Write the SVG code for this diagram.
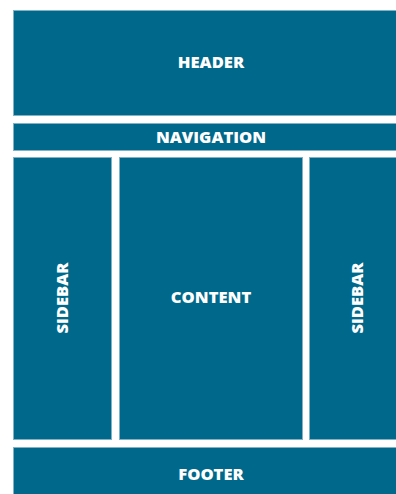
<svg xmlns="http://www.w3.org/2000/svg" width="396" height="494" viewBox="0 0 396 494">
<style>
.box{fill:#00688a;stroke:#7fb2c6;stroke-width:1}
.t{font-family:"Open Sans",sans-serif;font-weight:800;font-size:16.6px;fill:#fff;text-anchor:middle;dominant-baseline:central}
</style>
<rect width="396" height="494" fill="#fff"/>
<g id="header"><rect class="box" x="13.5" y="10.5" width="396" height="105"/><text class="t" x="211" y="61">HEADER</text></g>
<g id="navigation"><rect class="box" x="13.5" y="123.5" width="396" height="27"/><text class="t" x="211" y="136">NAVIGATION</text></g>
<g id="sidebar-left"><rect class="box" x="13.5" y="157.5" width="98" height="282"/><text class="t" transform="translate(61 298) rotate(-90)">SIDEBAR</text></g>
<g id="content"><rect class="box" x="119.5" y="157.5" width="183" height="282"/><text class="t" x="211" y="296">CONTENT</text></g>
<g id="sidebar-right"><rect class="box" x="309.5" y="157.5" width="96" height="282"/><text class="t" transform="translate(356 298) rotate(-90)">SIDEBAR</text></g>
<g id="footer"><rect class="box" x="13.5" y="447.5" width="396" height="60"/><text class="t" x="211" y="473">FOOTER</text></g>
<g id="connectors"/>
</svg>
